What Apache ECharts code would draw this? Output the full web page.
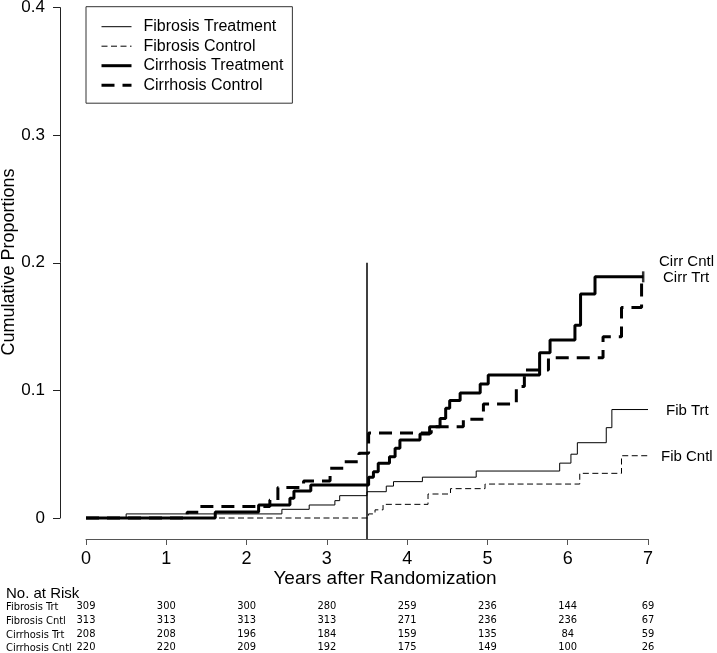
<!DOCTYPE html>
<html>
<head>
<meta charset="utf-8">
<script src="https://cdn.jsdelivr.net/npm/echarts@6/dist/echarts.min.js"></script>
<style>
html,body{margin:0;padding:0;background:#fff;}
#chart{width:717px;height:653px;}
</style>
</head>
<body>
<div id="chart"></div>
<script>
// ---- data (years, cumulative proportion) ----
var fibTrt = [[0,0],[0.50,0.0032],[2.44,0.0068],[2.78,0.0102],[3.10,0.0136],[3.16,0.0175],[3.50,0.0206],[3.74,0.0250],[3.83,0.0285],[4.19,0.0320],[4.86,0.0368],[5.90,0.0430],[6.04,0.0500],[6.12,0.0590],[6.48,0.0708],[6.55,0.0850],[7.00,0.0850]];
var fibCntl = [[0,0],[3.52,0.0032],[3.60,0.0064],[3.70,0.0107],[4.26,0.0188],[4.54,0.0230],[4.97,0.0266],[6.15,0.0350],[6.67,0.0488],[7.00,0.0488]];
var cirrTrt = [[0,0],[1.61,0.0048],[2.15,0.0102],[2.54,0.0154],[2.59,0.0212],[2.80,0.0259],[3.52,0.0319],[3.58,0.0363],[3.64,0.0429],[3.78,0.0480],[3.85,0.0546],[3.91,0.0611],[4.16,0.0658],[4.28,0.0716],[4.41,0.0780],[4.48,0.0860],[4.53,0.0920],[4.66,0.0980],[4.91,0.1050],[5.01,0.1120],[5.65,0.1296],[5.78,0.1395],[6.09,0.1510],[6.16,0.1755],[6.34,0.1890],[6.94,0.1890]];
var cirrCntl = [[0,0],[1.26,0.0045],[1.40,0.0091],[2.29,0.0141],[2.39,0.0240],[2.71,0.0290],[3.04,0.0390],[3.22,0.0441],[3.40,0.0507],[3.52,0.0666],[4.30,0.0716],[4.70,0.0773],[4.95,0.0893],[5.36,0.1030],[5.46,0.1160],[5.76,0.1256],[6.44,0.1420],[6.67,0.1650],[6.92,0.1890],[6.94,0.1890]];
var censorMarks = [[6.94,0.189]];
var refLine = [[3.5,0.2],[3.5,-0.0165]];

var seriesNames = ['Fibrosis Treatment','Fibrosis Control','Cirrhosis Treatment','Cirrhosis Control'];
var endLabels = ['Fib Trt','Fib Cntl','Cirr Trt','Cirr Cntl'];

var xTicks = [0,1,2,3,4,5,6,7];
var yTicks = [0,0.1,0.2,0.3,0.4];

var riskRowLabels = ['Fibrosis Trt','Fibrosis Cntl','Cirrhosis Trt','Cirrhosis Cntl'];
var riskFibTrt = [309,300,300,280,259,236,144,69];
var riskFibCntl = [313,313,313,313,271,236,236,67];
var riskCirrTrt = [208,208,196,184,159,135,84,59];
var riskCirrCntl = [220,220,209,192,175,149,100,26];
var riskRows = [riskFibTrt, riskFibCntl, riskCirrTrt, riskCirrCntl];

// ---- styles ----
var FONT = "'Liberation Sans', Arial, Helvetica, sans-serif";
var NARROW = "'Liberation Sans Narrow', 'Arial Narrow', 'DejaVu Sans Condensed', sans-serif";
var styles = [
  {width:1, type:'solid'},
  {width:1, type:[6,3.5]},
  {width:3, type:'solid'},
  {width:3, type:[13,8]}
];
var dataSets = [fibTrt, fibCntl, cirrTrt, cirrCntl];

var chart = echarts.init(document.getElementById('chart'), null, {renderer:'canvas', width:717, height:653});

var xAxes = [{
  type:'value', position:'bottom', min:xTicks[0], max:xTicks[xTicks.length-1], interval:1, offset:21,
  axisLine:{show:true, onZero:false, lineStyle:{color:'#555', width:1}},
  axisTick:{show:true, length:6, lineStyle:{color:'#555', width:1}},
  axisLabel:{fontSize:18, fontFamily:FONT, color:'#000', margin:11, showMinLabel:true, showMaxLabel:true},
  splitLine:{show:false}
}];
var riskOffsets = [83, 97, 111, 124];
riskRows.forEach(function(row, i){
  xAxes.push({
    type:'value', position:'bottom', min:xTicks[0], max:xTicks[xTicks.length-1], interval:1, offset:riskOffsets[i],
    axisLine:{show:false, onZero:false}, axisTick:{show:false}, splitLine:{show:false},
    axisLabel:{fontSize:11, fontFamily:NARROW, color:'#000', margin:0, showMinLabel:true, showMaxLabel:true,
      formatter:function(v){ return String(row[Math.round(v)]); }}
  });
});

var series = dataSets.map(function(d, i){
  return {
    name:seriesNames[i], type:'line', step:'end', data:d, symbol:'none', clip:false,
    lineStyle:{color:'#000', width:styles[i].width, type:styles[i].type},
    itemStyle:{color:'#000'},
    silent:true, animation:false, z:2
  };
});
series.push({
  name:'ref', type:'line', data:refLine, symbol:'none', clip:false,
  lineStyle:{color:'#000', width:1.5}, silent:true, animation:false
});
series.push({
  name:'censor', type:'scatter', data:censorMarks, symbol:'rect', symbolSize:[2.5,11],
  itemStyle:{color:'#000'}, silent:true, animation:false
});

var graphics = [
  {type:'text', x:385, y:579, style:{text:'Years after Randomization', font:'19px '+FONT, fill:'#000', align:'center', verticalAlign:'middle', textAlign:'center', textVerticalAlign:'middle'}},
  {type:'text', x:9, y:262, rotation:Math.PI/2, style:{text:'Cumulative Proportions', font:'18px '+FONT, fill:'#000', align:'center', verticalAlign:'middle', textAlign:'center', textVerticalAlign:'middle'}},
  {type:'text', x:6, y:594, style:{text:'No. at Risk', font:'15px '+FONT, fill:'#000', align:'left', verticalAlign:'middle', textAlign:'left', textVerticalAlign:'middle'}}
];
var rowY = [607, 620.7, 634.7, 648];
riskRowLabels.forEach(function(t, i){
  graphics.push({type:'text', x:6, y:rowY[i], style:{text:t, font:'11px '+NARROW, fill:'#000', align:'left', verticalAlign:'middle', textAlign:'left', textVerticalAlign:'middle'}});
});
var endLabelPos = [[666,411],[661,457],[663,278],[659,262]];
endLabels.forEach(function(t, i){
  graphics.push({type:'text', x:endLabelPos[i][0], y:endLabelPos[i][1], style:{text:t, font:'15px '+FONT, fill:'#000', align:'left', verticalAlign:'middle', textAlign:'left', textVerticalAlign:'middle'}});
});

var option = {
  animation:false,
  backgroundColor:'#fff',
  grid:{left:86, right:69, top:7.6, bottom:135, containLabel:false, outerBoundsMode:'none'},
  xAxis:xAxes,
  yAxis:{
    type:'value', min:yTicks[0], max:yTicks[yTicks.length-1], interval:0.1, offset:26,
    axisLine:{show:true, onZero:false, lineStyle:{color:'#222', width:1}},
    axisTick:{show:true, length:7, lineStyle:{color:'#222', width:1}},
    axisLabel:{fontSize:17, fontFamily:FONT, color:'#000', margin:15, showMinLabel:true, showMaxLabel:true,
      formatter:function(v){ return v === 0 ? '0' : v.toFixed(1); }},
    splitLine:{show:false}
  },
  legend:{
    show:true, orient:'vertical', left:86, top:6.7, selectedMode:false,
    borderColor:'#333', borderWidth:1, padding:[12, 9, 10, 14],
    itemWidth:30, itemHeight:14, itemGap:3.5,
    textStyle:{fontSize:16, lineHeight:14, fontFamily:FONT, color:'#000', padding:[0,0,0,7]},
    data:seriesNames.map(function(n, i){
      return {name:n, lineStyle:{color:'#000', width:styles[i].width, type:styles[i].type},
        itemStyle:{color:'transparent', opacity:0, borderWidth:0}};
    })
  },
  series:series,
  graphic:graphics
};
chart.setOption(option);
</script>
</body>
</html>
